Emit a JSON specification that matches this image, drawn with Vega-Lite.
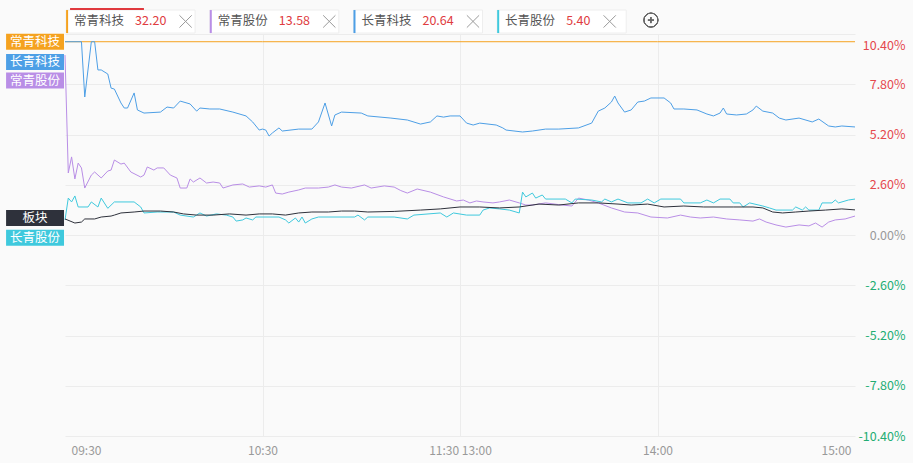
{
  "$schema": "https://vega.github.io/schema/vega-lite/v6.json",
  "width": 790,
  "height": 402,
  "autosize": {"type": "none"},
  "padding": {"left": 65, "top": 34, "right": 58, "bottom": 27},
  "background": "#fafafa",
  "config": {"view": {"stroke": null}, "font": "Noto Sans CJK SC", "scale": {"continuousPadding": 0}},
  "datasets": {
    "lines": [
      {"s": "常青科技", "m": 0, "p": 10.0}, {"s": "常青科技", "m": 60, "p": 10.0}, {"s": "常青科技", "m": 120, "p": 10.0}, {"s": "常青科技", "m": 180, "p": 10.0}, {"s": "常青科技", "m": 240, "p": 10.0},

      {"s": "长青科技", "m": 0, "p": 10.0}, {"s": "长青科技", "m": 5, "p": 10.0}, {"s": "长青科技", "m": 6, "p": 7.14}, {"s": "长青科技", "m": 8, "p": 10.0}, {"s": "长青科技", "m": 9, "p": 10.0}, {"s": "长青科技", "m": 10, "p": 8.54}, {"s": "长青科技", "m": 11, "p": 8.54}, {"s": "长青科技", "m": 13, "p": 8.33}, {"s": "长青科技", "m": 14, "p": 7.6}, {"s": "长青科技", "m": 15, "p": 7.55}, {"s": "长青科技", "m": 17, "p": 6.83}, {"s": "长青科技", "m": 18, "p": 6.57}, {"s": "长青科技", "m": 19, "p": 6.57}, {"s": "长青科技", "m": 21, "p": 7.35}, {"s": "长青科技", "m": 22, "p": 6.47}, {"s": "长青科技", "m": 24, "p": 6.31}, {"s": "长青科技", "m": 29, "p": 6.36}, {"s": "长青科技", "m": 31, "p": 6.62}, {"s": "长青科技", "m": 33, "p": 6.57}, {"s": "长青科技", "m": 35, "p": 6.93}, {"s": "长青科技", "m": 38, "p": 6.78}, {"s": "长青科技", "m": 40, "p": 6.41}, {"s": "长青科技", "m": 41, "p": 6.57}, {"s": "长青科技", "m": 44, "p": 6.52}, {"s": "长青科技", "m": 47, "p": 6.52}, {"s": "长青科技", "m": 51, "p": 6.36}, {"s": "长青科技", "m": 55, "p": 6.16}, {"s": "长青科技", "m": 57, "p": 5.85}, {"s": "长青科技", "m": 59, "p": 5.43}, {"s": "长青科技", "m": 60, "p": 5.48}, {"s": "长青科技", "m": 61, "p": 5.43}, {"s": "长青科技", "m": 62, "p": 5.12}, {"s": "长青科技", "m": 63, "p": 5.28}, {"s": "长青科技", "m": 65, "p": 5.54}, {"s": "长青科技", "m": 66, "p": 5.38}, {"s": "长青科技", "m": 71, "p": 5.48}, {"s": "长青科技", "m": 75, "p": 5.48}, {"s": "长青科技", "m": 77, "p": 5.85}, {"s": "长青科技", "m": 79, "p": 6.83}, {"s": "长青科技", "m": 81, "p": 5.64}, {"s": "长青科技", "m": 82, "p": 6.21}, {"s": "长青科技", "m": 84, "p": 6.36}, {"s": "长青科技", "m": 90, "p": 6.31}, {"s": "长青科技", "m": 92, "p": 6.16}, {"s": "长青科技", "m": 99, "p": 6.05}, {"s": "长青科技", "m": 104, "p": 5.95}, {"s": "长青科技", "m": 108, "p": 5.74}, {"s": "长青科技", "m": 111, "p": 5.85}, {"s": "长青科技", "m": 113, "p": 6.16}, {"s": "长青科技", "m": 115, "p": 6.1}, {"s": "长青科技", "m": 117, "p": 6.16}, {"s": "长青科技", "m": 120, "p": 6.16}, {"s": "长青科技", "m": 122, "p": 5.79}, {"s": "长青科技", "m": 124, "p": 5.69}, {"s": "长青科技", "m": 126, "p": 5.79}, {"s": "长青科技", "m": 131, "p": 5.69}, {"s": "长青科技", "m": 133, "p": 5.54}, {"s": "长青科技", "m": 134, "p": 5.43}, {"s": "长青科技", "m": 139, "p": 5.33}, {"s": "长青科技", "m": 142, "p": 5.38}, {"s": "长青科技", "m": 146, "p": 5.48}, {"s": "长青科技", "m": 150, "p": 5.48}, {"s": "长青科技", "m": 156, "p": 5.54}, {"s": "长青科技", "m": 160, "p": 5.79}, {"s": "长青科技", "m": 162, "p": 6.41}, {"s": "长青科技", "m": 164, "p": 6.57}, {"s": "长青科技", "m": 166, "p": 6.88}, {"s": "长青科技", "m": 167, "p": 7.19}, {"s": "长青科技", "m": 168, "p": 6.83}, {"s": "长青科技", "m": 170, "p": 6.36}, {"s": "长青科技", "m": 172, "p": 6.47}, {"s": "长青科技", "m": 174, "p": 6.88}, {"s": "长青科技", "m": 176, "p": 6.93}, {"s": "长青科技", "m": 178, "p": 7.09}, {"s": "长青科技", "m": 182, "p": 7.09}, {"s": "长青科技", "m": 184, "p": 6.83}, {"s": "长青科技", "m": 185, "p": 6.52}, {"s": "长青科技", "m": 188, "p": 6.52}, {"s": "长青科技", "m": 192, "p": 6.47}, {"s": "长青科技", "m": 195, "p": 6.26}, {"s": "长青科技", "m": 197, "p": 6.16}, {"s": "长青科技", "m": 199, "p": 6.31}, {"s": "长青科技", "m": 200, "p": 6.57}, {"s": "长青科技", "m": 201, "p": 6.26}, {"s": "长青科技", "m": 204, "p": 6.21}, {"s": "长青科技", "m": 207, "p": 6.26}, {"s": "长青科技", "m": 209, "p": 6.47}, {"s": "长青科技", "m": 210, "p": 6.67}, {"s": "长青科技", "m": 212, "p": 6.41}, {"s": "长青科技", "m": 215, "p": 6.31}, {"s": "长青科技", "m": 217, "p": 6.05}, {"s": "长青科技", "m": 219, "p": 5.95}, {"s": "长青科技", "m": 223, "p": 6.05}, {"s": "长青科技", "m": 227, "p": 5.85}, {"s": "长青科技", "m": 229, "p": 6.0}, {"s": "长青科技", "m": 232, "p": 5.64}, {"s": "长青科技", "m": 234, "p": 5.59}, {"s": "长青科技", "m": 236, "p": 5.64}, {"s": "长青科技", "m": 240, "p": 5.59},

      {"s": "常青股份", "m": 0, "p": 9.31}, {"s": "常青股份", "m": 1, "p": 3.21}, {"s": "常青股份", "m": 2, "p": 4.04}, {"s": "常青股份", "m": 3, "p": 2.9}, {"s": "常青股份", "m": 4, "p": 3.72}, {"s": "常青股份", "m": 5, "p": 3.47}, {"s": "常青股份", "m": 6, "p": 2.43}, {"s": "常青股份", "m": 8, "p": 3.1}, {"s": "常青股份", "m": 9, "p": 3.26}, {"s": "常青股份", "m": 11, "p": 2.95}, {"s": "常青股份", "m": 13, "p": 3.31}, {"s": "常青股份", "m": 14, "p": 3.36}, {"s": "常青股份", "m": 15, "p": 3.88}, {"s": "常青股份", "m": 17, "p": 3.67}, {"s": "常青股份", "m": 18, "p": 3.72}, {"s": "常青股份", "m": 20, "p": 3.26}, {"s": "常青股份", "m": 23, "p": 3.0}, {"s": "常青股份", "m": 24, "p": 3.1}, {"s": "常青股份", "m": 25, "p": 3.52}, {"s": "常青股份", "m": 27, "p": 3.36}, {"s": "常青股份", "m": 28, "p": 3.47}, {"s": "常青股份", "m": 30, "p": 3.47}, {"s": "常青股份", "m": 32, "p": 3.1}, {"s": "常青股份", "m": 34, "p": 2.95}, {"s": "常青股份", "m": 35, "p": 2.43}, {"s": "常青股份", "m": 37, "p": 2.43}, {"s": "常青股份", "m": 38, "p": 2.9}, {"s": "常青股份", "m": 39, "p": 2.74}, {"s": "常青股份", "m": 41, "p": 2.95}, {"s": "常青股份", "m": 43, "p": 2.69}, {"s": "常青股份", "m": 45, "p": 2.74}, {"s": "常青股份", "m": 47, "p": 2.69}, {"s": "常青股份", "m": 48, "p": 2.43}, {"s": "常青股份", "m": 51, "p": 2.59}, {"s": "常青股份", "m": 54, "p": 2.64}, {"s": "常青股份", "m": 56, "p": 2.48}, {"s": "常青股份", "m": 59, "p": 2.54}, {"s": "常青股份", "m": 61, "p": 2.48}, {"s": "常青股份", "m": 63, "p": 2.59}, {"s": "常青股份", "m": 64, "p": 2.17}, {"s": "常青股份", "m": 66, "p": 2.12}, {"s": "常青股份", "m": 68, "p": 2.22}, {"s": "常青股份", "m": 71, "p": 2.33}, {"s": "常青股份", "m": 73, "p": 2.43}, {"s": "常青股份", "m": 77, "p": 2.43}, {"s": "常青股份", "m": 80, "p": 2.48}, {"s": "常青股份", "m": 82, "p": 2.59}, {"s": "常青股份", "m": 84, "p": 2.48}, {"s": "常青股份", "m": 87, "p": 2.43}, {"s": "常青股份", "m": 91, "p": 2.59}, {"s": "常青股份", "m": 93, "p": 2.43}, {"s": "常青股份", "m": 97, "p": 2.54}, {"s": "常青股份", "m": 100, "p": 2.48}, {"s": "常青股份", "m": 102, "p": 2.3}, {"s": "常青股份", "m": 104, "p": 2.17}, {"s": "常青股份", "m": 107, "p": 2.38}, {"s": "常青股份", "m": 111, "p": 2.22}, {"s": "常青股份", "m": 115, "p": 1.97}, {"s": "常青股份", "m": 119, "p": 1.76}, {"s": "常青股份", "m": 121, "p": 1.81}, {"s": "常青股份", "m": 123, "p": 1.66}, {"s": "常青股份", "m": 125, "p": 1.76}, {"s": "常青股份", "m": 127, "p": 1.71}, {"s": "常青股份", "m": 130, "p": 1.66}, {"s": "常青股份", "m": 132, "p": 1.71}, {"s": "常青股份", "m": 135, "p": 1.81}, {"s": "常青股份", "m": 138, "p": 1.66}, {"s": "常青股份", "m": 140, "p": 1.55}, {"s": "常青股份", "m": 142, "p": 1.55}, {"s": "常青股份", "m": 146, "p": 1.66}, {"s": "常青股份", "m": 151, "p": 1.55}, {"s": "常青股份", "m": 154, "p": 1.5}, {"s": "常青股份", "m": 156, "p": 1.91}, {"s": "常青股份", "m": 159, "p": 1.81}, {"s": "常青股份", "m": 162, "p": 1.66}, {"s": "常青股份", "m": 166, "p": 1.4}, {"s": "常青股份", "m": 170, "p": 1.19}, {"s": "常青股份", "m": 174, "p": 1.14}, {"s": "常青股份", "m": 178, "p": 0.93}, {"s": "常青股份", "m": 183, "p": 0.88}, {"s": "常青股份", "m": 187, "p": 1.03}, {"s": "常青股份", "m": 190, "p": 0.93}, {"s": "常青股份", "m": 193, "p": 0.88}, {"s": "常青股份", "m": 197, "p": 0.93}, {"s": "常青股份", "m": 201, "p": 0.83}, {"s": "常青股份", "m": 205, "p": 0.78}, {"s": "常青股份", "m": 209, "p": 0.72}, {"s": "常青股份", "m": 211, "p": 0.83}, {"s": "常青股份", "m": 213, "p": 0.67}, {"s": "常青股份", "m": 216, "p": 0.52}, {"s": "常青股份", "m": 219, "p": 0.41}, {"s": "常青股份", "m": 223, "p": 0.52}, {"s": "常青股份", "m": 226, "p": 0.47}, {"s": "常青股份", "m": 228, "p": 0.62}, {"s": "常青股份", "m": 230, "p": 0.41}, {"s": "常青股份", "m": 232, "p": 0.67}, {"s": "常青股份", "m": 234, "p": 0.78}, {"s": "常青股份", "m": 237, "p": 0.83}, {"s": "常青股份", "m": 240, "p": 0.98},

      {"s": "长青股份", "m": 0, "p": 0.78}, {"s": "长青股份", "m": 1, "p": 1.91}, {"s": "长青股份", "m": 2, "p": 1.71}, {"s": "长青股份", "m": 3, "p": 2.02}, {"s": "长青股份", "m": 4, "p": 1.45}, {"s": "长青股份", "m": 7, "p": 1.45}, {"s": "长青股份", "m": 8, "p": 1.71}, {"s": "长青股份", "m": 10, "p": 1.45}, {"s": "长青股份", "m": 11, "p": 1.91}, {"s": "长青股份", "m": 13, "p": 1.38}, {"s": "长青股份", "m": 15, "p": 1.71}, {"s": "长青股份", "m": 21, "p": 1.71}, {"s": "长青股份", "m": 23, "p": 1.45}, {"s": "长青股份", "m": 24, "p": 1.14}, {"s": "长青股份", "m": 28, "p": 1.19}, {"s": "长青股份", "m": 33, "p": 1.19}, {"s": "长青股份", "m": 35, "p": 1.03}, {"s": "长青股份", "m": 39, "p": 0.93}, {"s": "长青股份", "m": 41, "p": 1.14}, {"s": "长青股份", "m": 43, "p": 0.98}, {"s": "长青股份", "m": 46, "p": 1.09}, {"s": "长青股份", "m": 49, "p": 1.03}, {"s": "长青股份", "m": 51, "p": 0.93}, {"s": "长青股份", "m": 52, "p": 0.72}, {"s": "长青股份", "m": 54, "p": 0.78}, {"s": "长青股份", "m": 55, "p": 0.88}, {"s": "长青股份", "m": 57, "p": 0.78}, {"s": "长青股份", "m": 58, "p": 0.93}, {"s": "长青股份", "m": 65, "p": 0.93}, {"s": "长青股份", "m": 67, "p": 0.78}, {"s": "长青股份", "m": 68, "p": 0.62}, {"s": "长青股份", "m": 70, "p": 0.88}, {"s": "长青股份", "m": 71, "p": 0.67}, {"s": "长青股份", "m": 72, "p": 0.93}, {"s": "长青股份", "m": 73, "p": 0.62}, {"s": "长青股份", "m": 75, "p": 0.83}, {"s": "长青股份", "m": 77, "p": 0.93}, {"s": "长青股份", "m": 88, "p": 0.93}, {"s": "长青股份", "m": 89, "p": 1.03}, {"s": "长青股份", "m": 91, "p": 0.78}, {"s": "长青股份", "m": 92, "p": 0.93}, {"s": "长青股份", "m": 100, "p": 0.93}, {"s": "长青股份", "m": 104, "p": 0.83}, {"s": "长青股份", "m": 106, "p": 1.03}, {"s": "长青股份", "m": 114, "p": 1.14}, {"s": "长青股份", "m": 116, "p": 0.93}, {"s": "长青股份", "m": 118, "p": 1.14}, {"s": "长青股份", "m": 122, "p": 1.03}, {"s": "长青股份", "m": 126, "p": 1.03}, {"s": "长青股份", "m": 127, "p": 1.29}, {"s": "长青股份", "m": 129, "p": 1.4}, {"s": "长青股份", "m": 132, "p": 1.35}, {"s": "长青股份", "m": 135, "p": 1.29}, {"s": "长青股份", "m": 138, "p": 1.14}, {"s": "长青股份", "m": 139, "p": 2.22}, {"s": "长青股份", "m": 140, "p": 1.97}, {"s": "长青股份", "m": 142, "p": 2.17}, {"s": "长青股份", "m": 143, "p": 1.91}, {"s": "长青股份", "m": 145, "p": 2.07}, {"s": "长青股份", "m": 146, "p": 1.86}, {"s": "长青股份", "m": 152, "p": 1.86}, {"s": "长青股份", "m": 154, "p": 1.66}, {"s": "长青股份", "m": 155, "p": 1.86}, {"s": "长青股份", "m": 160, "p": 1.81}, {"s": "长青股份", "m": 163, "p": 1.71}, {"s": "长青股份", "m": 164, "p": 1.86}, {"s": "长青股份", "m": 166, "p": 1.71}, {"s": "长青股份", "m": 168, "p": 1.86}, {"s": "长青股份", "m": 171, "p": 1.66}, {"s": "长青股份", "m": 175, "p": 1.66}, {"s": "长青股份", "m": 177, "p": 1.86}, {"s": "长青股份", "m": 179, "p": 1.66}, {"s": "长青股份", "m": 181, "p": 1.86}, {"s": "长青股份", "m": 187, "p": 1.86}, {"s": "长青股份", "m": 188, "p": 1.66}, {"s": "长青股份", "m": 193, "p": 1.66}, {"s": "长青股份", "m": 195, "p": 1.81}, {"s": "长青股份", "m": 197, "p": 1.66}, {"s": "长青股份", "m": 199, "p": 1.86}, {"s": "长青股份", "m": 202, "p": 1.86}, {"s": "长青股份", "m": 203, "p": 1.66}, {"s": "长青股份", "m": 205, "p": 1.66}, {"s": "长青股份", "m": 206, "p": 1.45}, {"s": "长青股份", "m": 208, "p": 1.66}, {"s": "长青股份", "m": 212, "p": 1.5}, {"s": "长青股份", "m": 214, "p": 1.4}, {"s": "长青股份", "m": 216, "p": 1.29}, {"s": "长青股份", "m": 221, "p": 1.29}, {"s": "长青股份", "m": 222, "p": 1.45}, {"s": "长青股份", "m": 224, "p": 1.29}, {"s": "长青股份", "m": 225, "p": 1.45}, {"s": "长青股份", "m": 226, "p": 1.29}, {"s": "长青股份", "m": 229, "p": 1.29}, {"s": "长青股份", "m": 230, "p": 1.66}, {"s": "长青股份", "m": 233, "p": 1.66}, {"s": "长青股份", "m": 234, "p": 1.81}, {"s": "长青股份", "m": 235, "p": 1.66}, {"s": "长青股份", "m": 238, "p": 1.81}, {"s": "长青股份", "m": 240, "p": 1.86},

      {"s": "板块", "m": 0, "p": 0.83}, {"s": "板块", "m": 3, "p": 0.62}, {"s": "板块", "m": 5, "p": 0.67}, {"s": "板块", "m": 6, "p": 0.83}, {"s": "板块", "m": 9, "p": 0.83}, {"s": "板块", "m": 11, "p": 0.93}, {"s": "板块", "m": 14, "p": 0.98}, {"s": "板块", "m": 15, "p": 1.03}, {"s": "板块", "m": 17, "p": 1.14}, {"s": "板块", "m": 21, "p": 1.19}, {"s": "板块", "m": 24, "p": 1.24}, {"s": "板块", "m": 29, "p": 1.24}, {"s": "板块", "m": 33, "p": 1.19}, {"s": "板块", "m": 36, "p": 1.09}, {"s": "板块", "m": 40, "p": 1.03}, {"s": "板块", "m": 45, "p": 1.03}, {"s": "板块", "m": 50, "p": 1.09}, {"s": "板块", "m": 55, "p": 1.03}, {"s": "板块", "m": 59, "p": 1.09}, {"s": "板块", "m": 63, "p": 1.09}, {"s": "板块", "m": 67, "p": 1.03}, {"s": "板块", "m": 71, "p": 1.14}, {"s": "板块", "m": 75, "p": 1.19}, {"s": "板块", "m": 80, "p": 1.19}, {"s": "板块", "m": 84, "p": 1.24}, {"s": "板块", "m": 88, "p": 1.24}, {"s": "板块", "m": 92, "p": 1.19}, {"s": "板块", "m": 100, "p": 1.22}, {"s": "板块", "m": 108, "p": 1.29}, {"s": "板块", "m": 114, "p": 1.35}, {"s": "板块", "m": 120, "p": 1.45}, {"s": "板块", "m": 126, "p": 1.45}, {"s": "板块", "m": 132, "p": 1.4}, {"s": "板块", "m": 138, "p": 1.45}, {"s": "板块", "m": 144, "p": 1.6}, {"s": "板块", "m": 150, "p": 1.55}, {"s": "板块", "m": 156, "p": 1.66}, {"s": "板块", "m": 162, "p": 1.66}, {"s": "板块", "m": 168, "p": 1.6}, {"s": "板块", "m": 172, "p": 1.55}, {"s": "板块", "m": 177, "p": 1.6}, {"s": "板块", "m": 182, "p": 1.45}, {"s": "板块", "m": 188, "p": 1.5}, {"s": "板块", "m": 194, "p": 1.45}, {"s": "板块", "m": 203, "p": 1.45}, {"s": "板块", "m": 209, "p": 1.45}, {"s": "板块", "m": 212, "p": 1.4}, {"s": "板块", "m": 215, "p": 1.19}, {"s": "板块", "m": 218, "p": 1.14}, {"s": "板块", "m": 222, "p": 1.19}, {"s": "板块", "m": 226, "p": 1.24}, {"s": "板块", "m": 231, "p": 1.29}, {"s": "板块", "m": 236, "p": 1.35}, {"s": "板块", "m": 240, "p": 1.3}
    ],
    "tags": [
      {"s": "常青科技", "ty": 10.0},
      {"s": "长青科技", "ty": 8.95},
      {"s": "常青股份", "ty": 7.99},
      {"s": "板块", "ty": 0.88},
      {"s": "长青股份", "ty": -0.14}
    ],
    "tabs": [
      {"s": "常青科技", "tab": 0, "price": "32.20"},
      {"s": "常青股份", "tab": 1, "price": "13.58"},
      {"s": "长青科技", "tab": 2, "price": "20.64"},
      {"s": "长青股份", "tab": 3, "price": "5.40"}
    ]
  },
  "layer": [
    {
      "layer": [
        {
          "data": {"name": "lines"},
          "mark": {"type": "line", "strokeWidth": 1},
          "encoding": {
            "x": {
              "field": "m", "type": "quantitative",
              "scale": {"domain": [0, 240], "nice": false, "zero": false, "padding": 0},
              "axis": {
                "values": [0, 60, 120, 180, 240],
                "labelExpr": "datum.value == 0 ? '09:30' : datum.value == 60 ? '10:30' : datum.value == 120 ? '11:30  13:00' : datum.value == 180 ? '14:00' : '15:00'",
                "title": null, "domain": false, "ticks": false, "tickSize": 0,
                "labelPadding": 9, "labelColor": "#999999", "labelFontSize": 12, "labelFlush": false,
                "gridColor": "#ececec",
                "gridOpacity": {"condition": {"test": "datum.value == 0 || datum.value == 240", "value": 0}, "value": 1},
                "labelAlign": {"condition": [{"test": "datum.value == 0", "value": "left"}, {"test": "datum.value == 240", "value": "right"}], "value": "center"},
                "labelOffset": {"condition": [{"test": "datum.value == 0", "value": 6}, {"test": "datum.value == 240", "value": -4}], "value": 0}
              }
            },
            "y": {
              "field": "p", "type": "quantitative",
              "scale": {"domain": [-10.4, 10.4], "nice": false, "zero": false, "padding": 0},
              "axis": {
                "orient": "right",
                "values": [-10.4, -7.8, -5.2, -2.6, 0, 2.6, 5.2, 7.8, 10.4],
                "labelExpr": "(datum.value < 0 ? '-' : '') + format(abs(datum.value), '.2f') + '%'",
                "title": null, "domain": false, "ticks": false, "tickSize": 0,
                "labelPadding": 50, "labelAlign": "right", "labelBaseline": "middle", "labelFlush": false,
                "labelFontSize": 12.5,
                "labelColor": {"condition": [{"test": "datum.value > 0.01", "value": "#e5484d"}, {"test": "datum.value < -0.01", "value": "#22ad73"}], "value": "#999999"},
                "labelOffset": {"condition": {"test": "datum.value > 10", "value": 11}, "value": 0},
                "gridColor": "#ececec"
              }
            },
            "color": {
              "field": "s", "type": "nominal",
              "scale": {"domain": ["常青科技", "长青科技", "常青股份", "长青股份", "板块"], "range": ["#f5a21f", "#4d9fe6", "#b98ee6", "#3fc9dd", "#2e313b"]},
              "legend": null
            }
          }
        },
        {
          "data": {"name": "tags"},
          "mark": {"type": "bar", "orient": "horizontal", "size": 16},
          "encoding": {
            "x": {"datum": -17.9, "type": "quantitative", "scale": {"domain": [0, 240], "nice": false, "zero": false, "padding": 0}},
            "x2": {"datum": -0.3},
            "y": {"field": "ty", "type": "quantitative", "scale": {"domain": [-10.4, 10.4], "nice": false, "zero": false, "padding": 0}},
            "color": {"field": "s", "type": "nominal", "legend": null}
          }
        },
        {
          "data": {"name": "tags"},
          "mark": {"type": "text", "color": "#ffffff", "fontSize": 12.5, "align": "center", "baseline": "middle"},
          "encoding": {
            "x": {"datum": -9.1, "type": "quantitative", "scale": {"domain": [0, 240], "nice": false, "zero": false, "padding": 0}},
            "y": {"field": "ty", "type": "quantitative", "scale": {"domain": [-10.4, 10.4], "nice": false, "zero": false, "padding": 0}},
            "text": {"field": "s"}
          }
        }
      ]
    },
    {
      "data": {"name": "tabs"},
      "layer": [
        {
          "mark": {"type": "bar", "size": 129, "color": "#ffffff", "stroke": "#eeeeee", "strokeWidth": 1},
          "encoding": {
            "x": {"field": "tab", "type": "quantitative", "scale": {"domain": [-0.4565, 5.0412], "nice": false, "zero": false, "padding": 0}, "axis": null},
            "y": {"datum": 11.64, "type": "quantitative", "scale": {"domain": [-10.4, 10.4], "nice": false, "zero": false, "padding": 0}, "axis": null},
            "y2": {"datum": 10.45}
          }
        },
        {
          "mark": {"type": "bar", "size": 2, "xOffset": -63.5},
          "encoding": {
            "x": {"field": "tab", "type": "quantitative", "scale": {"domain": [-0.4565, 5.0412], "nice": false, "zero": false, "padding": 0}, "axis": null},
            "y": {"datum": 11.64, "type": "quantitative", "scale": {"domain": [-10.4, 10.4], "nice": false, "zero": false, "padding": 0}, "axis": null},
            "y2": {"datum": 10.45},
            "color": {"field": "s", "type": "nominal", "legend": null}
          }
        },
        {
          "mark": {"type": "text", "align": "left", "baseline": "middle", "dx": -56.6, "fontSize": 12.5, "color": "#555555"},
          "encoding": {
            "x": {"field": "tab", "type": "quantitative", "scale": {"domain": [-0.4565, 5.0412], "nice": false, "zero": false, "padding": 0}, "axis": null},
            "y": {"datum": 11.05, "type": "quantitative", "scale": {"domain": [-10.4, 10.4], "nice": false, "zero": false, "padding": 0}, "axis": null},
            "text": {"field": "s"}
          }
        },
        {
          "mark": {"type": "text", "align": "left", "baseline": "middle", "dx": 4.5, "fontSize": 12.5, "color": "#e03c41"},
          "encoding": {
            "x": {"field": "tab", "type": "quantitative", "scale": {"domain": [-0.4565, 5.0412], "nice": false, "zero": false, "padding": 0}, "axis": null},
            "y": {"datum": 11.05, "type": "quantitative", "scale": {"domain": [-10.4, 10.4], "nice": false, "zero": false, "padding": 0}, "axis": null},
            "text": {"field": "price"}
          }
        },
        {
          "mark": {"type": "point", "shape": "M-1,-1L1,1M-1,1L1,-1", "size": 150, "filled": false, "stroke": "#9a9a9a", "strokeWidth": 1, "opacity": 1, "xOffset": {"expr": "length(datum.price) > 4 ? 55 : 48"}},
          "encoding": {
            "x": {"field": "tab", "type": "quantitative", "scale": {"domain": [-0.4565, 5.0412], "nice": false, "zero": false, "padding": 0}, "axis": null},
            "y": {"datum": 11.05, "type": "quantitative", "scale": {"domain": [-10.4, 10.4], "nice": false, "zero": false, "padding": 0}, "axis": null}
          }
        },
        {
          "mark": {"type": "bar", "size": 73, "xOffset": -23.6, "color": "#e0393e"},
          "encoding": {
            "x": {"datum": 0, "type": "quantitative", "scale": {"domain": [-0.4565, 5.0412], "nice": false, "zero": false, "padding": 0}, "axis": null},
            "y": {"datum": 11.745, "type": "quantitative", "scale": {"domain": [-10.4, 10.4], "nice": false, "zero": false, "padding": 0}, "axis": null},
            "y2": {"datum": 11.645}
          }
        },
        {
          "mark": {"type": "point", "shape": "circle", "size": 196, "filled": false, "stroke": "#666666", "strokeWidth": 1, "opacity": 1},
          "encoding": {
            "x": {"datum": 3.621, "type": "quantitative", "scale": {"domain": [-0.4565, 5.0412], "nice": false, "zero": false, "padding": 0}, "axis": null},
            "y": {"datum": 11.12, "type": "quantitative", "scale": {"domain": [-10.4, 10.4], "nice": false, "zero": false, "padding": 0}, "axis": null}
          }
        },
        {
          "mark": {"type": "point", "shape": "M-1,0L1,0M0,-1L0,1", "size": 36, "filled": false, "stroke": "#666666", "strokeWidth": 1, "opacity": 1},
          "encoding": {
            "x": {"datum": 3.621, "type": "quantitative", "scale": {"domain": [-0.4565, 5.0412], "nice": false, "zero": false, "padding": 0}, "axis": null},
            "y": {"datum": 11.12, "type": "quantitative", "scale": {"domain": [-10.4, 10.4], "nice": false, "zero": false, "padding": 0}, "axis": null}
          }
        }
      ]
    }
  ],
  "resolve": {"scale": {"x": "independent", "y": "independent"}, "axis": {"x": "independent", "y": "independent"}}
}
